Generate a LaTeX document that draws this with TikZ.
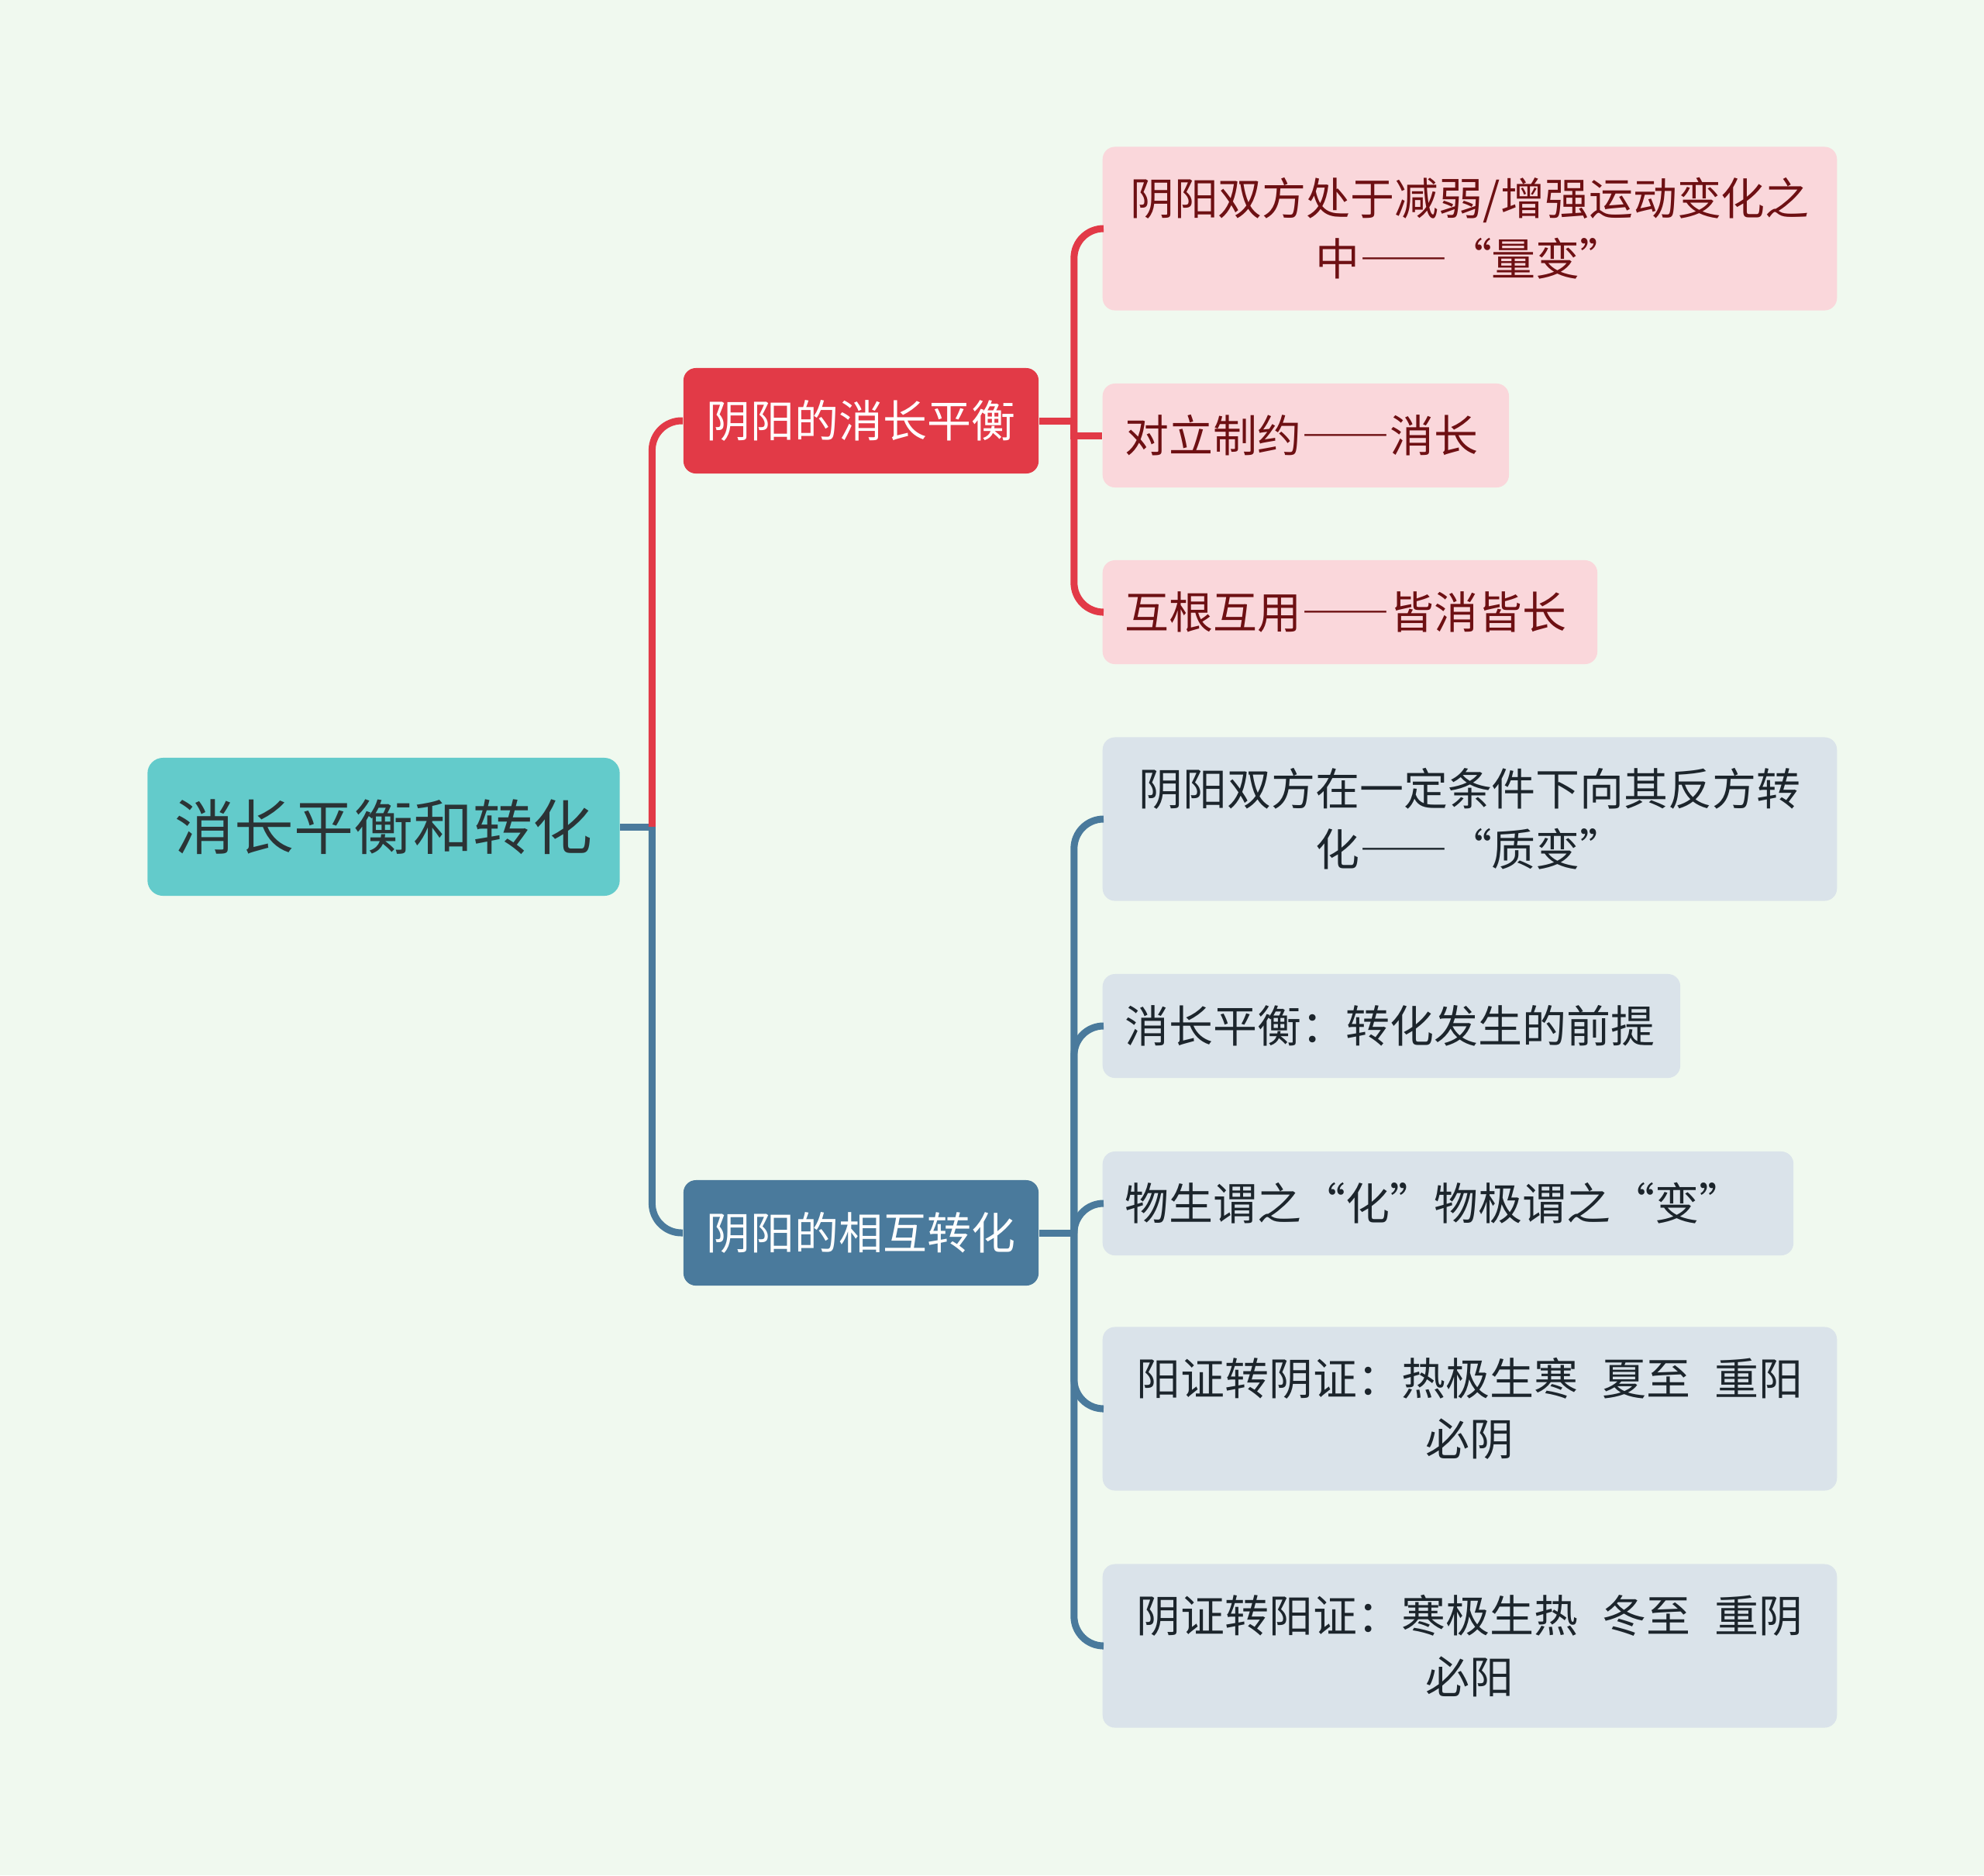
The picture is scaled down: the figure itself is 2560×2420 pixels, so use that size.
\documentclass[tikz,border=0pt]{standalone}
\usepackage{fontspec}
\setmainfont{Noto Sans CJK SC}
\newfontfamily\fullwidth[RawFeature=+fwid]{Noto Sans CJK SC}
\newcommand{\longdash}{{\fullwidth ——}}
\usepackage{tikz}
\usetikzlibrary{
  positioning,
  calc
}
\definecolor{mmBg}{HTML}{F0F9EF}
\definecolor{mmRoot}{HTML}{63CBCB}
\definecolor{mmRootText}{HTML}{2B3335}
\definecolor{mmRed}{HTML}{E23A47}
\definecolor{mmRedLight}{HTML}{FAD7DB}
\definecolor{mmRedText}{HTML}{6E1013}
\definecolor{mmBlue}{HTML}{4A7A9C}
\definecolor{mmBlueLight}{HTML}{DAE3EA}
\definecolor{mmBlueText}{HTML}{1C252C}
\tikzset{
  mmnode/.style={
    rounded corners=0.16cm, inner sep=0pt, align=center,
    font=\fontsize{16.2}{22.2}\selectfont
  },
  rootbox/.style={mmnode, fill=mmRoot, text=mmRootText, minimum width=6.09cm,
    minimum height=1.78cm, rounded corners=0.2cm, font=\fontsize{21.9}{26}\selectfont},
  branchbox/.style={mmnode, text=white, minimum width=4.58cm, minimum height=1.36cm},
  redbranch/.style={branchbox, fill=mmRed},
  bluebranch/.style={branchbox, fill=mmBlue},
  leafbox/.style={mmnode, anchor=west, minimum height=1.34cm},
  redleaf/.style={leafbox, fill=mmRedLight, text=mmRedText},
  blueleaf/.style={leafbox, fill=mmBlueLight, text=mmBlueText},
  twoline/.style={minimum width=9.47cm, minimum height=2.11cm},
  oneline/.style={text width=#1, align=left, inner xsep=0.29cm},
  link/.style={line width=0.09cm, rounded corners=0.38cm},
  redlink/.style={link, draw=mmRed},
  bluelink/.style={link, draw=mmBlue}
}

\begin{document}
\begin{tikzpicture}[x=0.01cm, y=-0.01cm]
  \fill[mmBg] (0,0) rectangle (2560,2420);

  \node[rootbox] (root) at (495,1067) {消长平衡和转化};
  \node[redbranch] (xiaozhang) at (1111,543) {阴阳的消长平衡};
  \node[bluebranch] (zhuanhua) at (1111,1591) {阴阳的相互转化};

  % leaves of the red branch
  \node[redleaf, twoline] (liangbian) at (1422,295) {阴阳双方处于减弱/增强运动变化之\\中\longdash“量变”};
  \node[redleaf, oneline=4.66cm] (zhiyue) at (1422,562) {对立制约\longdash 消长};
  \node[redleaf, oneline=5.80cm] (hugen) at (1422,790) {互根互用\longdash 皆消皆长};

  % leaves of the blue branch
  \node[blueleaf, twoline] (zhibian) at (1422,1057) {阴阳双方在一定条件下向其反方转\\化\longdash“质变”};
  \node[blueleaf, oneline=6.87cm] (qianti) at (1422,1324) {消长平衡：转化发生的前提};
  \node[blueleaf, oneline=8.33cm] (wusheng) at (1422,1553) {物生谓之“化”物极谓之“变”};
  \node[blueleaf, twoline] (yangzheng) at (1422,1818) {阳证转阴证：热极生寒\hspace{.55em}夏至\hspace{.55em}重阳\\必阴};
  \node[blueleaf, twoline] (yinzheng) at (1422,2124) {阴证转阳证：寒极生热\hspace{.55em}冬至\hspace{.55em}重阴\\必阳};

  \coordinate (rootj) at ($(root.east)+(41,0)$);
  \coordinate (redj) at ($(xiaozhang.east)+(45,0)$);
  \coordinate (bluej) at ($(zhuanhua.east)+(45,0)$);

  \draw[bluelink] (root.east) -- (rootj);
  \draw[redlink] (rootj) |- (xiaozhang.west);
  \draw[bluelink] (rootj) |- (zhuanhua.west);

  \draw[redlink] (xiaozhang.east) -- (redj);
  \draw[redlink] (redj) |- (liangbian.west);
  \draw[redlink, sharp corners] (redj) |- (zhiyue.west);
  \draw[redlink] (redj) |- (hugen.west);

  \draw[bluelink] (zhuanhua.east) -- (bluej);
  \foreach \leaf in {zhibian, qianti, wusheng, yangzheng, yinzheng}
    \draw[bluelink] (bluej) |- (\leaf.west);
\end{tikzpicture}
\end{document}
